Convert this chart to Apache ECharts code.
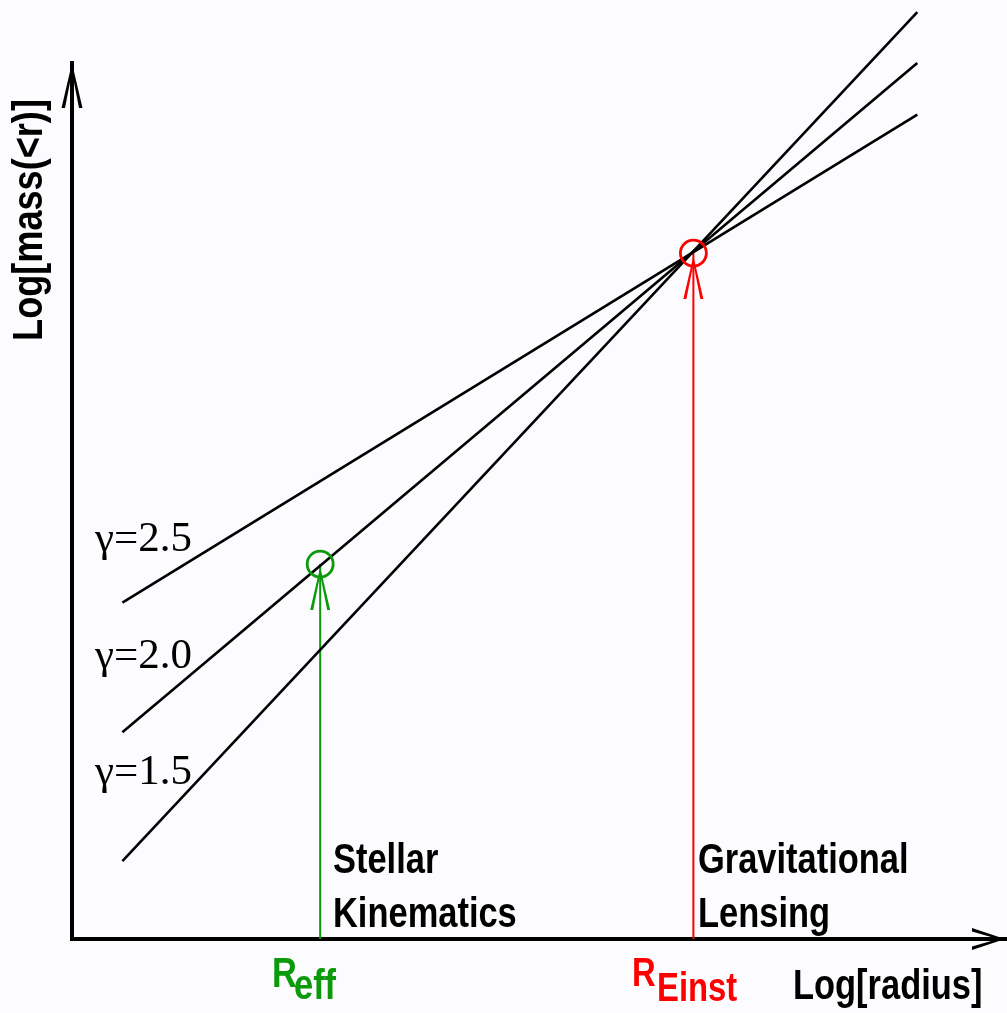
<!DOCTYPE html>
<html>
<head>
<meta charset="utf-8">
<script src="https://cdn.jsdelivr.net/npm/echarts@6/dist/echarts.min.js"></script>
<style>
  html, body { margin: 0; padding: 0; background: #fcfbfd; }
  #chart { width: 1007px; height: 1013px; }
</style>
</head>
<body>
<div id="chart"></div>
<script>
// ---- data (arbitrary log units) ----
const xRange = [0, 10];
const yRange = [0, 10];
const lineX = [0.54, 9.06];
const gamma25 = [3.84, 9.41];
const gamma20 = [2.36, 10.0];
const gamma15 = [0.89, 10.58];
const gammaLabels = ['γ=2.5', 'γ=2.0', 'γ=1.5'];
const markerX = [2.66, 6.66];   // R_eff, R_Einst
const markerY = [4.28, 7.83];
const markerMain = ['R', 'R'];
const markerSub = ['eff', 'Einst'];
const methodLabels = [['Stellar', 'Kinematics'], ['Gravitational', 'Lensing']];
const axisNames = ['Log[radius]', 'Log[mass(<r)]'];

const GREEN = '#0a9a0a';
const RED = '#ff0000';
const SANS = '"Liberation Sans", Arial, Helvetica, sans-serif';
const SERIF = '"Liberation Serif", "DejaVu Serif", serif';
const NARROW = 0.82;

const chart = echarts.init(document.getElementById('chart'), null, { renderer: 'canvas' });

function gammaSeries(ys) {
  return {
    type: 'line', silent: true, clip: false, symbol: 'none', z: 3,
    data: [[lineX[0], ys[0]], [lineX[1], ys[1]]],
    lineStyle: { color: '#000', width: 2.6 }
  };
}
const chevron = 'path://M10 0 L20 43 L17 43 L10 8 L3 43 L0 43 Z';
function markerLine(i, color) {
  return {
    type: 'line', silent: true, clip: false, z: 2,
    data: [
      { value: [markerX[i], 0], symbol: 'none' },
      { value: [markerX[i], markerY[i]], symbol: chevron, symbolSize: [20, 43], symbolOffset: [0, 24.5] }
    ],
    itemStyle: { color: color, opacity: 1 },
    lineStyle: { color: color, width: 2 }
  };
}
function txt(text, x, y, size, color, extra) {
  return Object.assign({
    type: 'text', x: x, y: y, scaleX: NARROW,
    style: { text: text, font: 'bold ' + size + 'px ' + SANS, fill: color, align: 'left', verticalAlign: 'middle' }
  }, extra || {});
}
function gtxt(text, x, y) {
  return {
    type: 'text', x: x, y: y,
    style: { text: text, font: '43px ' + SERIF, fill: '#000', align: 'left', verticalAlign: 'middle' }
  };
}

const option = {
  backgroundColor: '#fcfbfd',
  animation: false,
  grid: { left: 72, right: 2, top: 63, bottom: 74 },
  xAxis: {
    type: 'value', min: xRange[0], max: xRange[1],
    axisLine: {
      show: true, onZero: true,
      lineStyle: { color: '#000', width: 4, cap: 'square' },
      symbol: ['none', 'path://M11 0 L22 33 L18.5 33 L11 7 L3.5 33 L0 33 Z'],
      symbolSize: [22, 33], symbolOffset: [0, -16.5]
    },
    axisTick: { show: false }, axisLabel: { show: false }, splitLine: { show: false }
  },
  yAxis: {
    type: 'value', min: yRange[0], max: yRange[1],
    axisLine: {
      show: true, onZero: false,
      lineStyle: { color: '#000', width: 4, cap: 'square' },
      symbol: ['none', 'path://M10.5 0 L21 45 L17.5 45 L10.5 9 L3.5 45 L0 45 Z'],
      symbolSize: [21, 45], symbolOffset: [0, -22.5]
    },
    axisTick: { show: false }, axisLabel: { show: false }, splitLine: { show: false }
  },
  series: [
    gammaSeries(gamma25),
    gammaSeries(gamma20),
    gammaSeries(gamma15),
    markerLine(0, GREEN),
    markerLine(1, RED),
    {
      type: 'scatter', silent: true, z: 4, symbol: 'circle', symbolSize: 26,
      data: [
        { value: [markerX[0], markerY[0]], itemStyle: { borderColor: GREEN } },
        { value: [markerX[1], markerY[1]], itemStyle: { borderColor: RED } }
      ],
      itemStyle: { color: 'rgba(0,0,0,0)', borderWidth: 2.8, opacity: 1 }
    }
  ],
  graphic: [
    gtxt(gammaLabels[0], 95, 540),
    gtxt(gammaLabels[1], 95, 657),
    gtxt(gammaLabels[2], 95, 773),
    txt(methodLabels[0][0], 333, 861, 42, '#000'),
    txt(methodLabels[0][1], 333, 915, 42, '#000'),
    txt(methodLabels[1][0], 698, 861, 42, '#000'),
    txt(methodLabels[1][1], 698, 915, 42, '#000'),
    txt(markerMain[0], 272, 975, 42, GREEN),
    txt(markerSub[0], 294, 987, 42, GREEN),
    txt(markerMain[1], 632, 975, 40, RED),
    txt(markerSub[1], 657, 990, 40, RED),
    txt(axisNames[0], 793, 987, 42, '#000'),
    {
      type: 'text', x: 30, y: 220, rotation: Math.PI / 2, scaleX: 0.86,
      style: { text: axisNames[1], font: 'bold 42px ' + SANS, fill: '#000', align: 'center', verticalAlign: 'middle' }
    }
  ]
};
chart.setOption(option);
</script>
</body>
</html>
